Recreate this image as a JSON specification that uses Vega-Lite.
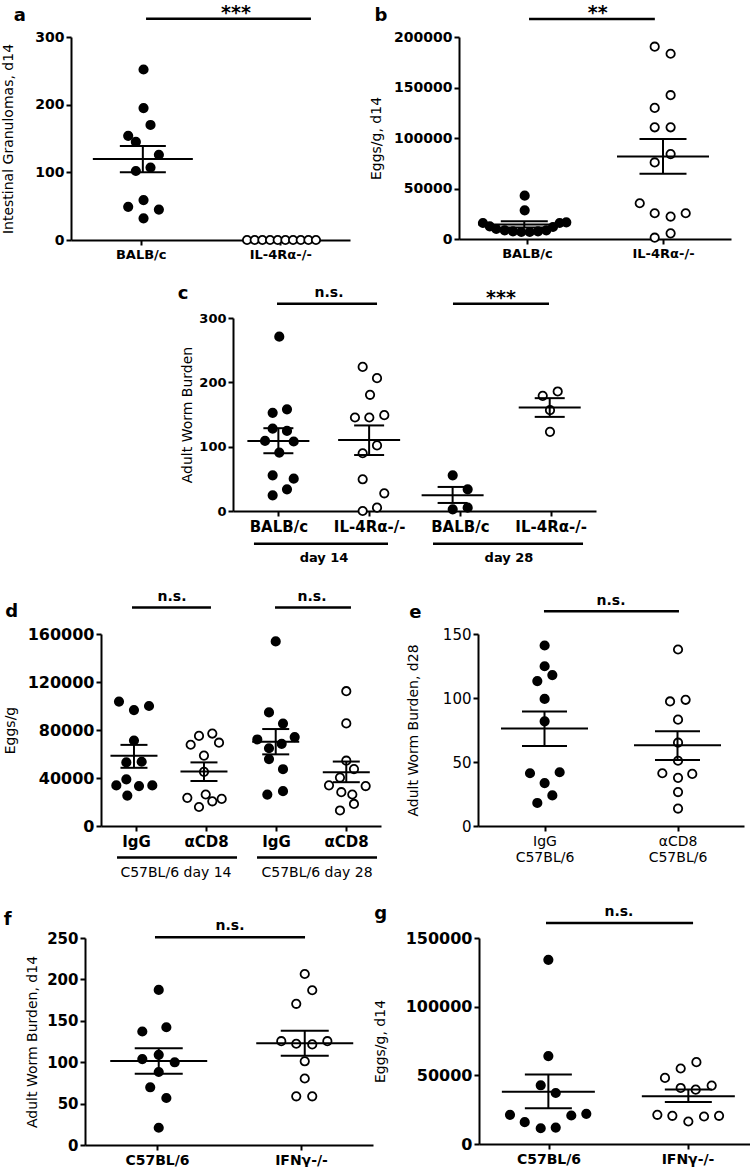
{
  "$schema": "https://vega.github.io/schema/vega-lite/v6.json",
  "padding": {"left": 0, "top": 3, "right": 0, "bottom": 0},
  "config": {
    "view": {"stroke": null},
    "font": "DejaVu Sans",
    "axis": {"domainColor": "#000", "domainWidth": 2, "tickColor": "#000", "tickWidth": 2, "tickSize": 5, "labelColor": "#000", "titleColor": "#000", "labelFont": "DejaVu Sans", "titleFont": "DejaVu Sans", "labelFontWeight": "bold", "titleFontWeight": "normal", "titleFontSize": 14, "labelFontSize": 13, "labelPadding": 2, "grid": false, "labelOverlap": false, "labelFlush": false},
    "axisX": {"labelPadding": 3, "labelAngle": 0},
    "title": {"anchor": "start", "frame": "bounds", "fontSize": 18, "fontWeight": "bold", "font": "DejaVu Sans", "color": "#000"}
  },
  "datasets": {
    "spacer": [{"t": ""}],
    "a_pts": [
      {"x": 1.02, "v": 252, "group": "BALB/c"}, {"x": 1.02, "v": 195, "group": "BALB/c"}, {"x": 1.07, "v": 170, "group": "BALB/c"}, {"x": 0.91, "v": 154, "group": "BALB/c"}, {"x": 0.965, "v": 145, "group": "BALB/c"}, {"x": 1.13, "v": 126, "group": "BALB/c"}, {"x": 0.965, "v": 102, "group": "BALB/c"}, {"x": 1.07, "v": 107, "group": "BALB/c"}, {"x": 1.02, "v": 59, "group": "BALB/c"}, {"x": 0.91, "v": 49, "group": "BALB/c"}, {"x": 1.13, "v": 45, "group": "BALB/c"}, {"x": 1.02, "v": 32, "group": "BALB/c"},
      {"x": 1.762, "v": 0, "group": "IL-4Rα-/-"}, {"x": 1.817, "v": 0, "group": "IL-4Rα-/-"}, {"x": 1.872, "v": 0, "group": "IL-4Rα-/-"}, {"x": 1.927, "v": 0, "group": "IL-4Rα-/-"}, {"x": 1.982, "v": 0, "group": "IL-4Rα-/-"}, {"x": 2.037, "v": 0, "group": "IL-4Rα-/-"}, {"x": 2.092, "v": 0, "group": "IL-4Rα-/-"}, {"x": 2.147, "v": 0, "group": "IL-4Rα-/-"}, {"x": 2.202, "v": 0, "group": "IL-4Rα-/-"}, {"x": 2.256, "v": 0, "group": "IL-4Rα-/-"}
    ],
    "a_sum": [{"x": 1.015, "mean": 119.6, "lo": 100, "hi": 139}],
    "a_sig": [{"x1": 1.038, "x2": 2.22, "y": 327, "xm": 1.683, "label": "***"}],
    "b_pts": [
      {"x": 0.983, "v": 42870, "group": "BALB/c"}, {"x": 0.983, "v": 28420, "group": "BALB/c"}, {"x": 0.676, "v": 15840, "group": "BALB/c"}, {"x": 0.726, "v": 12570, "group": "BALB/c"}, {"x": 0.774, "v": 9900, "group": "BALB/c"}, {"x": 0.836, "v": 8610, "group": "BALB/c"}, {"x": 0.897, "v": 7620, "group": "BALB/c"}, {"x": 0.958, "v": 6930, "group": "BALB/c"}, {"x": 1.02, "v": 6930, "group": "BALB/c"}, {"x": 1.081, "v": 7620, "group": "BALB/c"}, {"x": 1.142, "v": 8610, "group": "BALB/c"}, {"x": 1.191, "v": 11880, "group": "BALB/c"}, {"x": 1.24, "v": 15840, "group": "BALB/c"}, {"x": 1.289, "v": 16530, "group": "BALB/c"},
      {"x": 1.939, "v": 190400, "group": "IL-4Rα-/-"}, {"x": 2.056, "v": 183400, "group": "IL-4Rα-/-"}, {"x": 2.056, "v": 142400, "group": "IL-4Rα-/-"}, {"x": 1.939, "v": 129800, "group": "IL-4Rα-/-"}, {"x": 1.939, "v": 110600, "group": "IL-4Rα-/-"}, {"x": 2.056, "v": 110600, "group": "IL-4Rα-/-"}, {"x": 2.056, "v": 84100, "group": "IL-4Rα-/-"}, {"x": 1.939, "v": 75800, "group": "IL-4Rα-/-"}, {"x": 1.829, "v": 35400, "group": "IL-4Rα-/-"}, {"x": 1.939, "v": 25500, "group": "IL-4Rα-/-"}, {"x": 2.056, "v": 22200, "group": "IL-4Rα-/-"}, {"x": 2.167, "v": 25500, "group": "IL-4Rα-/-"}, {"x": 2.056, "v": 5600, "group": "IL-4Rα-/-"}, {"x": 1.939, "v": 1300, "group": "IL-4Rα-/-"}
    ],
    "b_sum": [{"x": 0.98, "mean": 14300, "lo": 11500, "hi": 17500}, {"x": 2.0, "mean": 81600, "lo": 64600, "hi": 99000}],
    "b_sig": [{"x1": 1.015, "x2": 1.94, "y": 217800, "xm": 1.52, "label": "**"}],
    "c_pts": [
      {"x": 1.01, "v": 271, "group": "BALB/c", "day": "day 14"}, {"x": 0.937, "v": 152.6, "group": "BALB/c", "day": "day 14"}, {"x": 1.095, "v": 158, "group": "BALB/c", "day": "day 14"}, {"x": 0.937, "v": 128, "group": "BALB/c", "day": "day 14"}, {"x": 1.095, "v": 124.5, "group": "BALB/c", "day": "day 14"}, {"x": 0.853, "v": 109, "group": "BALB/c", "day": "day 14"}, {"x": 1.169, "v": 108, "group": "BALB/c", "day": "day 14"}, {"x": 1.01, "v": 90.8, "group": "BALB/c", "day": "day 14"}, {"x": 0.937, "v": 55.5, "group": "BALB/c", "day": "day 14"}, {"x": 1.169, "v": 50.3, "group": "BALB/c", "day": "day 14"}, {"x": 1.095, "v": 33.7, "group": "BALB/c", "day": "day 14"}, {"x": 0.937, "v": 24.4, "group": "BALB/c", "day": "day 14"},
      {"x": 1.929, "v": 224, "group": "IL-4Rα-/-", "day": "day 14"}, {"x": 2.087, "v": 206.5, "group": "IL-4Rα-/-", "day": "day 14"}, {"x": 2.01, "v": 180.6, "group": "IL-4Rα-/-", "day": "day 14"}, {"x": 1.844, "v": 145.3, "group": "IL-4Rα-/-", "day": "day 14"}, {"x": 2.002, "v": 145.3, "group": "IL-4Rα-/-", "day": "day 14"}, {"x": 2.167, "v": 149, "group": "IL-4Rα-/-", "day": "day 14"}, {"x": 2.087, "v": 102, "group": "IL-4Rα-/-", "day": "day 14"}, {"x": 1.929, "v": 89.8, "group": "IL-4Rα-/-", "day": "day 14"}, {"x": 1.929, "v": 49.3, "group": "IL-4Rα-/-", "day": "day 14"}, {"x": 2.167, "v": 27.5, "group": "IL-4Rα-/-", "day": "day 14"}, {"x": 2.087, "v": 5.2, "group": "IL-4Rα-/-", "day": "day 14"}, {"x": 1.929, "v": 0, "group": "IL-4Rα-/-", "day": "day 14"},
      {"x": 2.921, "v": 55.5, "group": "BALB/c", "day": "day 28"}, {"x": 3.086, "v": 33.7, "group": "BALB/c", "day": "day 28"}, {"x": 2.921, "v": 2.6, "group": "BALB/c", "day": "day 28"}, {"x": 3.086, "v": 5.2, "group": "BALB/c", "day": "day 28"},
      {"x": 3.913, "v": 179, "group": "IL-4Rα-/-", "day": "day 28"}, {"x": 4.078, "v": 185.8, "group": "IL-4Rα-/-", "day": "day 28"}, {"x": 3.993, "v": 156.7, "group": "IL-4Rα-/-", "day": "day 28"}, {"x": 3.993, "v": 123, "group": "IL-4Rα-/-", "day": "day 28"}
    ],
    "c_sum": [{"x": 1.0, "mean": 109, "lo": 89.8, "hi": 128.7}, {"x": 2.0, "mean": 110.4, "lo": 87, "hi": 133}, {"x": 2.92, "mean": 24.4, "lo": 12.5, "hi": 37.4}, {"x": 3.99, "mean": 161, "lo": 146.3, "hi": 175.4}],
    "c_sig": [{"x1": 0.985, "x2": 2.087, "y": 322, "xm": 1.558, "label": "n.s."}, {"x1": 2.924, "x2": 3.982, "y": 322, "xm": 3.453, "label": "***"}],
    "c_days": [{"x1": 0.731, "x2": 2.208, "y": -51, "xm": 1.503, "ty": -73, "label": "day 14"}, {"x1": 2.704, "x2": 4.357, "y": -51, "xm": 3.541, "ty": -73, "label": "day 28"}],
    "d_pts": [
      {"x": 0.757, "v": 103660, "group": "IgG"}, {"x": 0.971, "v": 96620, "group": "IgG"}, {"x": 1.186, "v": 100000, "group": "IgG"}, {"x": 0.971, "v": 71270, "group": "IgG"}, {"x": 0.862, "v": 52960, "group": "IgG"}, {"x": 1.081, "v": 53520, "group": "IgG"}, {"x": 0.862, "v": 38870, "group": "IgG"}, {"x": 0.719, "v": 33800, "group": "IgG"}, {"x": 1.043, "v": 33240, "group": "IgG"}, {"x": 1.233, "v": 33800, "group": "IgG"}, {"x": 0.876, "v": 25350, "group": "IgG"},
      {"x": 1.781, "v": 67730, "group": "αCD8"}, {"x": 1.9, "v": 75090, "group": "αCD8"}, {"x": 2.09, "v": 77040, "group": "αCD8"}, {"x": 2.186, "v": 69420, "group": "αCD8"}, {"x": 1.971, "v": 58670, "group": "αCD8"}, {"x": 1.971, "v": 45120, "group": "αCD8"}, {"x": 1.733, "v": 23450, "group": "αCD8"}, {"x": 1.9, "v": 15830, "group": "αCD8"}, {"x": 1.996, "v": 26240, "group": "αCD8"}, {"x": 2.09, "v": 20570, "group": "αCD8"}, {"x": 2.224, "v": 22600, "group": "αCD8"},
      {"x": 2.996, "v": 153800, "group": "IgG"}, {"x": 2.9, "v": 94650, "group": "IgG"}, {"x": 3.1, "v": 85350, "group": "IgG"}, {"x": 2.733, "v": 72110, "group": "IgG"}, {"x": 2.9, "v": 64790, "group": "IgG"}, {"x": 3.081, "v": 68450, "group": "IgG"}, {"x": 3.267, "v": 74080, "group": "IgG"}, {"x": 2.9, "v": 55770, "group": "IgG"}, {"x": 3.1, "v": 47320, "group": "IgG"}, {"x": 2.876, "v": 26200, "group": "IgG"}, {"x": 3.1, "v": 29010, "group": "IgG"},
      {"x": 4.004, "v": 112330, "group": "αCD8"}, {"x": 4.004, "v": 85500, "group": "αCD8"}, {"x": 4.004, "v": 54430, "group": "αCD8"}, {"x": 4.114, "v": 47410, "group": "αCD8"}, {"x": 3.914, "v": 40350, "group": "αCD8"}, {"x": 3.757, "v": 33860, "group": "αCD8"}, {"x": 4.281, "v": 33280, "group": "αCD8"}, {"x": 3.933, "v": 28200, "group": "αCD8"}, {"x": 4.09, "v": 26240, "group": "αCD8"}, {"x": 4.114, "v": 18370, "group": "αCD8"}, {"x": 3.914, "v": 12950, "group": "αCD8"}
    ],
    "d_sum": [{"x": 0.971, "mean": 58500, "lo": 48500, "hi": 67600}, {"x": 1.971, "mean": 45400, "lo": 37500, "hi": 53000}, {"x": 2.996, "mean": 70300, "lo": 59700, "hi": 80800}, {"x": 4.004, "mean": 44700, "lo": 36500, "hi": 53700}],
    "d_sig": [{"x1": 0.943, "x2": 2.071, "y": 182000, "xm": 1.514, "label": "n.s."}, {"x1": 2.986, "x2": 4.071, "y": 182000, "xm": 3.514, "label": "n.s."}],
    "d_days": [{"x1": 0.729, "x2": 2.443, "y": -26240, "xm": 1.571, "ty": -38940, "label": "C57BL/6 day 14"}, {"x1": 2.729, "x2": 4.443, "y": -26240, "xm": 3.586, "ty": -38940, "label": "C57BL/6 day 28"}],
    "e_pts": [
      {"x": 1.001, "v": 141, "group": "IgG"}, {"x": 1.001, "v": 124.8, "group": "IgG"}, {"x": 0.946, "v": 113.2, "group": "IgG"}, {"x": 1.059, "v": 117.9, "group": "IgG"}, {"x": 1.001, "v": 99.3, "group": "IgG"}, {"x": 1.001, "v": 81.8, "group": "IgG"}, {"x": 0.891, "v": 41.2, "group": "IgG"}, {"x": 1.114, "v": 42, "group": "IgG"}, {"x": 1.001, "v": 33.5, "group": "IgG"}, {"x": 1.059, "v": 23.9, "group": "IgG"}, {"x": 0.946, "v": 18, "group": "IgG"},
      {"x": 2.004, "v": 137.9, "group": "αCD8"}, {"x": 1.944, "v": 97.3, "group": "αCD8"}, {"x": 2.061, "v": 98.6, "group": "αCD8"}, {"x": 2.004, "v": 83.1, "group": "αCD8"}, {"x": 2.004, "v": 65.1, "group": "αCD8"}, {"x": 2.004, "v": 51, "group": "αCD8"}, {"x": 1.886, "v": 41.2, "group": "αCD8"}, {"x": 2.004, "v": 37.6, "group": "αCD8"}, {"x": 2.111, "v": 40.7, "group": "αCD8"}, {"x": 2.004, "v": 26.5, "group": "αCD8"}, {"x": 2.004, "v": 13.6, "group": "αCD8"}
    ],
    "e_sum": [{"x": 1.0, "mean": 76.2, "lo": 62.5, "hi": 89.5}, {"x": 2.0, "mean": 63, "lo": 51.5, "hi": 74.1}],
    "e_sig": [{"x1": 0.996, "x2": 2.011, "y": 167.8, "xm": 1.5, "label": "n.s."}],
    "f_pts": [
      {"x": 1.012, "v": 187.3, "group": "C57BL/6"}, {"x": 0.898, "v": 137.1, "group": "C57BL/6"}, {"x": 1.065, "v": 142.2, "group": "C57BL/6"}, {"x": 1.012, "v": 108.9, "group": "C57BL/6"}, {"x": 0.898, "v": 103.8, "group": "C57BL/6"}, {"x": 1.123, "v": 99.9, "group": "C57BL/6"}, {"x": 1.012, "v": 88.2, "group": "C57BL/6"}, {"x": 0.953, "v": 69.7, "group": "C57BL/6"}, {"x": 1.065, "v": 56.8, "group": "C57BL/6"}, {"x": 1.012, "v": 20.8, "group": "C57BL/6"},
      {"x": 2.026, "v": 206.5, "group": "IFNγ-/-"}, {"x": 2.078, "v": 186.9, "group": "IFNγ-/-"}, {"x": 1.967, "v": 170.5, "group": "IFNγ-/-"}, {"x": 1.863, "v": 125.4, "group": "IFNγ-/-"}, {"x": 1.967, "v": 122.3, "group": "IFNγ-/-"}, {"x": 2.078, "v": 121.5, "group": "IFNγ-/-"}, {"x": 2.183, "v": 125.4, "group": "IFNγ-/-"}, {"x": 2.026, "v": 101.1, "group": "IFNγ-/-"}, {"x": 2.026, "v": 80.3, "group": "IFNγ-/-"}, {"x": 1.967, "v": 58.8, "group": "IFNγ-/-"}, {"x": 2.078, "v": 58.8, "group": "IFNγ-/-"}
    ],
    "f_sum": [{"x": 1.012, "mean": 101.3, "lo": 86.2, "hi": 116.8}, {"x": 2.026, "mean": 122.8, "lo": 107.8, "hi": 137.9}],
    "f_sig": [{"x1": 0.986, "x2": 2.028, "y": 251, "xm": 1.507, "label": "n.s."}],
    "g_pts": [
      {"x": 0.999, "v": 134120, "group": "C57BL/6"}, {"x": 0.999, "v": 64010, "group": "C57BL/6"}, {"x": 0.944, "v": 42750, "group": "C57BL/6"}, {"x": 1.052, "v": 37130, "group": "C57BL/6"}, {"x": 0.723, "v": 21250, "group": "C57BL/6"}, {"x": 0.829, "v": 15880, "group": "C57BL/6"}, {"x": 0.944, "v": 11480, "group": "C57BL/6"}, {"x": 1.052, "v": 11970, "group": "C57BL/6"}, {"x": 1.164, "v": 20770, "group": "C57BL/6"}, {"x": 1.272, "v": 21990, "group": "C57BL/6"},
      {"x": 1.838, "v": 48130, "group": "IFNγ-/-"}, {"x": 1.951, "v": 54970, "group": "IFNγ-/-"}, {"x": 2.064, "v": 59610, "group": "IFNγ-/-"}, {"x": 1.951, "v": 40800, "group": "IFNγ-/-"}, {"x": 2.059, "v": 39580, "group": "IFNγ-/-"}, {"x": 2.174, "v": 42510, "group": "IFNγ-/-"}, {"x": 1.783, "v": 21250, "group": "IFNγ-/-"}, {"x": 1.891, "v": 20520, "group": "IFNγ-/-"}, {"x": 2.006, "v": 16370, "group": "IFNγ-/-"}, {"x": 2.119, "v": 20030, "group": "IFNγ-/-"}, {"x": 2.227, "v": 20520, "group": "IFNγ-/-"}
    ],
    "g_sum": [{"x": 0.999, "mean": 38100, "lo": 26100, "hi": 50600}, {"x": 2.006, "mean": 34800, "lo": 30500, "hi": 39600}],
    "g_sig": [{"x1": 0.982, "x2": 2.04, "y": 161000, "xm": 1.507, "label": "n.s."}]
  },
  "spacing": 24,
  "vconcat": [
    {
      "spacing": 0,
      "hconcat": [
        {"width": 1, "height": 1, "data": {"name": "spacer"}, "mark": {"type": "text"}, "encoding": {"text": {"field": "t"}}},
        {
          "spacing": 19,
          "hconcat": [
            {
              "width": 279, "height": 203,
              "title": {"text": "a", "dx": 12, "offset": -21.5},
              "layer": [
                {"data": {"name": "a_pts"}, "mark": {"type": "circle", "size": 70, "stroke": "#000", "strokeWidth": 1.8, "opacity": 1},
                 "encoding": {
                   "x": {"field": "x", "type": "quantitative", "scale": {"domain": [0.5, 2.5], "nice": false, "zero": false}, "axis": {"values": [1, 2], "labelExpr": "datum.value == 1 ? 'BALB/c' : 'IL-4Rα-/-'", "title": null, "labelFontSize": 13}},
                   "y": {"field": "v", "type": "quantitative", "scale": {"domain": [0, 300], "nice": false}, "axis": {"values": [0, 100, 200, 300], "format": "d", "title": "Intestinal Granulomas, d14", "titlePadding": 19, "labelFontSize": 14}},
                   "fill": {"field": "group", "type": "nominal", "scale": {"domain": ["BALB/c", "IgG", "C57BL/6", "IL-4Rα-/-", "αCD8", "IFNγ-/-"], "range": ["#000000", "#000000", "#000000", "#ffffff", "#ffffff", "#ffffff"]}, "legend": null}
                 }},
                {"data": {"name": "a_sum"}, "mark": {"type": "rule", "strokeWidth": 2, "color": "#000"},
                 "encoding": {"x": {"field": "x", "type": "quantitative"}, "y": {"field": "lo", "type": "quantitative"}, "y2": {"field": "hi"}}},
                {"data": {"name": "a_sum"}, "mark": {"type": "tick", "orient": "horizontal", "size": 100, "thickness": 2, "color": "#000", "opacity": 1},
                 "encoding": {"x": {"field": "x", "type": "quantitative"}, "y": {"field": "mean", "type": "quantitative"}}},
                {"data": {"name": "a_sum"}, "mark": {"type": "tick", "orient": "horizontal", "size": 46, "thickness": 2, "color": "#000", "opacity": 1},
                 "encoding": {"x": {"field": "x", "type": "quantitative"}, "y": {"field": "lo", "type": "quantitative"}}},
                {"data": {"name": "a_sum"}, "mark": {"type": "tick", "orient": "horizontal", "size": 46, "thickness": 2, "color": "#000", "opacity": 1},
                 "encoding": {"x": {"field": "x", "type": "quantitative"}, "y": {"field": "hi", "type": "quantitative"}}},
                {"data": {"name": "a_sig"}, "mark": {"type": "rule", "strokeWidth": 2.5, "color": "#000"},
                 "encoding": {"x": {"field": "x1", "type": "quantitative"}, "x2": {"field": "x2"}, "y": {"field": "y", "type": "quantitative"}}},
                {"data": {"name": "a_sig"}, "mark": {"type": "text", "fontSize": 19, "fontWeight": "bold", "baseline": "alphabetic", "color": "#000"},
                 "encoding": {"x": {"field": "xm", "type": "quantitative"}, "y": {"field": "y", "type": "quantitative"}, "text": {"field": "label"}}}
              ]
            },
            {
              "width": 272, "height": 202,
              "title": {"text": "b", "dx": 5, "offset": -20.5},
              "layer": [
                {"data": {"name": "b_pts"}, "mark": {"type": "circle", "size": 70, "stroke": "#000", "strokeWidth": 1.8, "opacity": 1},
                 "encoding": {
                   "x": {"field": "x", "type": "quantitative", "scale": {"domain": [0.5, 2.5], "nice": false, "zero": false}, "axis": {"values": [1, 2], "labelExpr": "datum.value == 1 ? 'BALB/c' : 'IL-4Rα-/-'", "title": null, "labelFontSize": 13}},
                   "y": {"field": "v", "type": "quantitative", "scale": {"domain": [0, 200000], "nice": false}, "axis": {"values": [0, 50000, 100000, 150000, 200000], "format": "d", "title": "Eggs/g, d14", "titlePadding": 10, "labelFontSize": 14}},
                   "fill": {"field": "group", "type": "nominal", "scale": {"domain": ["BALB/c", "IgG", "C57BL/6", "IL-4Rα-/-", "αCD8", "IFNγ-/-"], "range": ["#000000", "#000000", "#000000", "#ffffff", "#ffffff", "#ffffff"]}, "legend": null}
                 }},
                {"data": {"name": "b_sum"}, "mark": {"type": "rule", "strokeWidth": 2, "color": "#000"},
                 "encoding": {"x": {"field": "x", "type": "quantitative"}, "y": {"field": "lo", "type": "quantitative"}, "y2": {"field": "hi"}}},
                {"data": {"name": "b_sum"}, "mark": {"type": "tick", "orient": "horizontal", "size": 92, "thickness": 2, "color": "#000", "opacity": 1},
                 "encoding": {"x": {"field": "x", "type": "quantitative"}, "y": {"field": "mean", "type": "quantitative"}}},
                {"data": {"name": "b_sum"}, "mark": {"type": "tick", "orient": "horizontal", "size": 47, "thickness": 2, "color": "#000", "opacity": 1},
                 "encoding": {"x": {"field": "x", "type": "quantitative"}, "y": {"field": "lo", "type": "quantitative"}}},
                {"data": {"name": "b_sum"}, "mark": {"type": "tick", "orient": "horizontal", "size": 47, "thickness": 2, "color": "#000", "opacity": 1},
                 "encoding": {"x": {"field": "x", "type": "quantitative"}, "y": {"field": "hi", "type": "quantitative"}}},
                {"data": {"name": "b_sig"}, "mark": {"type": "rule", "strokeWidth": 2.5, "color": "#000"},
                 "encoding": {"x": {"field": "x1", "type": "quantitative"}, "x2": {"field": "x2"}, "y": {"field": "y", "type": "quantitative"}}},
                {"data": {"name": "b_sig"}, "mark": {"type": "text", "fontSize": 19, "fontWeight": "bold", "baseline": "alphabetic", "color": "#000"},
                 "encoding": {"x": {"field": "xm", "type": "quantitative"}, "y": {"field": "y", "type": "quantitative"}, "text": {"field": "label"}}}
              ]
            }
          ]
        }
      ]
    },
    {
      "spacing": 0,
      "hconcat": [
        {"width": 177, "height": 1, "data": {"name": "spacer"}, "mark": {"type": "text"}, "encoding": {"text": {"field": "t"}}},
        {
          "width": 363, "height": 193,
          "title": {"text": "c", "dx": -3, "offset": -17.5},
          "layer": [
            {"data": {"name": "c_pts"}, "mark": {"type": "circle", "size": 70, "stroke": "#000", "strokeWidth": 1.8, "opacity": 1},
             "encoding": {
               "x": {"field": "x", "type": "quantitative", "scale": {"domain": [0.5, 4.5], "nice": false, "zero": false}, "axis": {"values": [1, 2, 3, 4], "labelExpr": "datum.value % 2 == 1 ? 'BALB/c' : 'IL-4Rα-/-'", "title": null, "labelFontSize": 15}},
               "y": {"field": "v", "type": "quantitative", "scale": {"domain": [0, 300], "nice": false}, "axis": {"values": [0, 100, 200, 300], "format": "d", "title": "Adult Worm Burden", "titlePadding": 4, "labelFontSize": 13}},
               "fill": {"field": "group", "type": "nominal", "scale": {"domain": ["BALB/c", "IgG", "C57BL/6", "IL-4Rα-/-", "αCD8", "IFNγ-/-"], "range": ["#000000", "#000000", "#000000", "#ffffff", "#ffffff", "#ffffff"]}, "legend": null}
             }},
            {"data": {"name": "c_sum"}, "mark": {"type": "rule", "strokeWidth": 2, "color": "#000"},
             "encoding": {"x": {"field": "x", "type": "quantitative"}, "y": {"field": "lo", "type": "quantitative"}, "y2": {"field": "hi"}}},
            {"data": {"name": "c_sum"}, "mark": {"type": "tick", "orient": "horizontal", "size": 62, "thickness": 2, "color": "#000", "opacity": 1},
             "encoding": {"x": {"field": "x", "type": "quantitative"}, "y": {"field": "mean", "type": "quantitative"}}},
            {"data": {"name": "c_sum"}, "mark": {"type": "tick", "orient": "horizontal", "size": 30, "thickness": 2, "color": "#000", "opacity": 1},
             "encoding": {"x": {"field": "x", "type": "quantitative"}, "y": {"field": "lo", "type": "quantitative"}}},
            {"data": {"name": "c_sum"}, "mark": {"type": "tick", "orient": "horizontal", "size": 30, "thickness": 2, "color": "#000", "opacity": 1},
             "encoding": {"x": {"field": "x", "type": "quantitative"}, "y": {"field": "hi", "type": "quantitative"}}},
            {"data": {"name": "c_sig"}, "mark": {"type": "rule", "strokeWidth": 2.5, "color": "#000"},
             "encoding": {"x": {"field": "x1", "type": "quantitative"}, "x2": {"field": "x2"}, "y": {"field": "y", "type": "quantitative"}}},
            {"data": {"name": "c_sig"}, "transform": [{"filter": "datum.label == 'n.s.'"}], "mark": {"type": "text", "fontSize": 14, "fontWeight": "bold", "baseline": "alphabetic", "dy": -7, "color": "#000"},
             "encoding": {"x": {"field": "xm", "type": "quantitative"}, "y": {"field": "y", "type": "quantitative"}, "text": {"field": "label"}}},
            {"data": {"name": "c_sig"}, "transform": [{"filter": "datum.label != 'n.s.'"}], "mark": {"type": "text", "fontSize": 19, "fontWeight": "bold", "baseline": "alphabetic", "color": "#000"},
             "encoding": {"x": {"field": "xm", "type": "quantitative"}, "y": {"field": "y", "type": "quantitative"}, "text": {"field": "label"}}},
            {"data": {"name": "c_days"}, "mark": {"type": "rule", "strokeWidth": 2.5, "color": "#000"},
             "encoding": {"x": {"field": "x1", "type": "quantitative"}, "x2": {"field": "x2"}, "y": {"field": "y", "type": "quantitative"}}},
            {"data": {"name": "c_days"}, "mark": {"type": "text", "fontSize": 13, "fontWeight": "bold", "baseline": "middle", "color": "#000"},
             "encoding": {"x": {"field": "xm", "type": "quantitative"}, "y": {"field": "ty", "type": "quantitative"}, "text": {"field": "label"}}}
          ]
        }
      ]
    },
    {
      "spacing": 0,
      "hconcat": [
        {"width": 3, "height": 1, "data": {"name": "spacer"}, "mark": {"type": "text"}, "encoding": {"text": {"field": "t"}}},
        {
          "spacing": 25,
          "hconcat": [
            {
              "width": 280, "height": 192,
              "title": {"text": "d", "dx": 2, "offset": -31.5},
              "layer": [
                {"data": {"name": "d_pts"}, "mark": {"type": "circle", "size": 70, "stroke": "#000", "strokeWidth": 1.8, "opacity": 1},
                 "encoding": {
                   "x": {"field": "x", "type": "quantitative", "scale": {"domain": [0.5, 4.5], "nice": false, "zero": false}, "axis": {"values": [1, 2, 3, 4], "labelExpr": "datum.value % 2 == 1 ? 'IgG' : 'αCD8'", "title": null, "labelFontSize": 15}},
                   "y": {"field": "v", "type": "quantitative", "scale": {"domain": [0, 160000], "nice": false}, "axis": {"values": [0, 40000, 80000, 120000, 160000], "format": "d", "title": "Eggs/g", "titlePadding": 10, "labelFontSize": 16}},
                   "fill": {"field": "group", "type": "nominal", "scale": {"domain": ["BALB/c", "IgG", "C57BL/6", "IL-4Rα-/-", "αCD8", "IFNγ-/-"], "range": ["#000000", "#000000", "#000000", "#ffffff", "#ffffff", "#ffffff"]}, "legend": null}
                 }},
                {"data": {"name": "d_sum"}, "mark": {"type": "rule", "strokeWidth": 2, "color": "#000"},
                 "encoding": {"x": {"field": "x", "type": "quantitative"}, "y": {"field": "lo", "type": "quantitative"}, "y2": {"field": "hi"}}},
                {"data": {"name": "d_sum"}, "mark": {"type": "tick", "orient": "horizontal", "size": 47, "thickness": 2, "color": "#000", "opacity": 1},
                 "encoding": {"x": {"field": "x", "type": "quantitative"}, "y": {"field": "mean", "type": "quantitative"}}},
                {"data": {"name": "d_sum"}, "mark": {"type": "tick", "orient": "horizontal", "size": 27, "thickness": 2, "color": "#000", "opacity": 1},
                 "encoding": {"x": {"field": "x", "type": "quantitative"}, "y": {"field": "lo", "type": "quantitative"}}},
                {"data": {"name": "d_sum"}, "mark": {"type": "tick", "orient": "horizontal", "size": 27, "thickness": 2, "color": "#000", "opacity": 1},
                 "encoding": {"x": {"field": "x", "type": "quantitative"}, "y": {"field": "hi", "type": "quantitative"}}},
                {"data": {"name": "d_sig"}, "mark": {"type": "rule", "strokeWidth": 2.5, "color": "#000"},
                 "encoding": {"x": {"field": "x1", "type": "quantitative"}, "x2": {"field": "x2"}, "y": {"field": "y", "type": "quantitative"}}},
                {"data": {"name": "d_sig"}, "mark": {"type": "text", "fontSize": 14, "fontWeight": "bold", "baseline": "alphabetic", "dy": -7, "color": "#000"},
                 "encoding": {"x": {"field": "xm", "type": "quantitative"}, "y": {"field": "y", "type": "quantitative"}, "text": {"field": "label"}}},
                {"data": {"name": "d_days"}, "mark": {"type": "rule", "strokeWidth": 2.5, "color": "#000"},
                 "encoding": {"x": {"field": "x1", "type": "quantitative"}, "x2": {"field": "x2"}, "y": {"field": "y", "type": "quantitative"}}},
                {"data": {"name": "d_days"}, "mark": {"type": "text", "fontSize": 14, "baseline": "middle", "color": "#000"},
                 "encoding": {"x": {"field": "xm", "type": "quantitative"}, "y": {"field": "ty", "type": "quantitative"}, "text": {"field": "label"}}}
              ]
            },
            {
              "width": 266, "height": 192,
              "title": {"text": "e", "dx": 3, "offset": -27.8},
              "layer": [
                {"data": {"name": "e_pts"}, "mark": {"type": "circle", "size": 70, "stroke": "#000", "strokeWidth": 1.8, "opacity": 1},
                 "encoding": {
                   "x": {"field": "x", "type": "quantitative", "scale": {"domain": [0.5, 2.5], "nice": false, "zero": false}, "axis": {"values": [1, 2], "labelExpr": "datum.value == 1 ? ['IgG', 'C57BL/6'] : ['αCD8', 'C57BL/6']", "title": null, "labelFontSize": 14, "labelFontWeight": "normal", "labelLineHeight": 16}},
                   "y": {"field": "v", "type": "quantitative", "scale": {"domain": [0, 150], "nice": false}, "axis": {"values": [0, 50, 100, 150], "format": "d", "title": "Adult Worm Burden, d28", "titlePadding": 22, "labelFontSize": 15, "labelFontWeight": "normal"}},
                   "fill": {"field": "group", "type": "nominal", "scale": {"domain": ["BALB/c", "IgG", "C57BL/6", "IL-4Rα-/-", "αCD8", "IFNγ-/-"], "range": ["#000000", "#000000", "#000000", "#ffffff", "#ffffff", "#ffffff"]}, "legend": null}
                 }},
                {"data": {"name": "e_sum"}, "mark": {"type": "rule", "strokeWidth": 2, "color": "#000"},
                 "encoding": {"x": {"field": "x", "type": "quantitative"}, "y": {"field": "lo", "type": "quantitative"}, "y2": {"field": "hi"}}},
                {"data": {"name": "e_sum"}, "mark": {"type": "tick", "orient": "horizontal", "size": 87, "thickness": 2, "color": "#000", "opacity": 1},
                 "encoding": {"x": {"field": "x", "type": "quantitative"}, "y": {"field": "mean", "type": "quantitative"}}},
                {"data": {"name": "e_sum"}, "mark": {"type": "tick", "orient": "horizontal", "size": 45, "thickness": 2, "color": "#000", "opacity": 1},
                 "encoding": {"x": {"field": "x", "type": "quantitative"}, "y": {"field": "lo", "type": "quantitative"}}},
                {"data": {"name": "e_sum"}, "mark": {"type": "tick", "orient": "horizontal", "size": 45, "thickness": 2, "color": "#000", "opacity": 1},
                 "encoding": {"x": {"field": "x", "type": "quantitative"}, "y": {"field": "hi", "type": "quantitative"}}},
                {"data": {"name": "e_sig"}, "mark": {"type": "rule", "strokeWidth": 2.5, "color": "#000"},
                 "encoding": {"x": {"field": "x1", "type": "quantitative"}, "x2": {"field": "x2"}, "y": {"field": "y", "type": "quantitative"}}},
                {"data": {"name": "e_sig"}, "mark": {"type": "text", "fontSize": 14, "fontWeight": "bold", "baseline": "alphabetic", "dy": -6, "color": "#000"},
                 "encoding": {"x": {"field": "xm", "type": "quantitative"}, "y": {"field": "y", "type": "quantitative"}, "text": {"field": "label"}}}
              ]
            }
          ]
        }
      ]
    },
    {
      "spacing": 0,
      "hconcat": [
        {"width": 3, "height": 1, "data": {"name": "spacer"}, "mark": {"type": "text"}, "encoding": {"text": {"field": "t"}}},
        {
          "spacing": 0,
          "hconcat": [
            {
              "width": 288, "height": 207,
              "title": {"text": "f", "dx": -22, "offset": -9.5},
              "layer": [
                {"data": {"name": "f_pts"}, "mark": {"type": "circle", "size": 70, "stroke": "#000", "strokeWidth": 1.8, "opacity": 1},
                 "encoding": {
                   "x": {"field": "x", "type": "quantitative", "scale": {"domain": [0.5, 2.5], "nice": false, "zero": false}, "axis": {"values": [1, 2], "labelExpr": "datum.value == 1 ? 'C57BL/6' : 'IFNγ-/-'", "title": null, "labelFontSize": 14}},
                   "y": {"field": "v", "type": "quantitative", "scale": {"domain": [0, 250], "nice": false}, "axis": {"values": [0, 50, 100, 150, 200, 250], "format": "d", "title": "Adult Worm Burden, d14", "titlePadding": 7, "labelFontSize": 15}},
                   "fill": {"field": "group", "type": "nominal", "scale": {"domain": ["BALB/c", "IgG", "C57BL/6", "IL-4Rα-/-", "αCD8", "IFNγ-/-"], "range": ["#000000", "#000000", "#000000", "#ffffff", "#ffffff", "#ffffff"]}, "legend": null}
                 }},
                {"data": {"name": "f_sum"}, "mark": {"type": "rule", "strokeWidth": 2, "color": "#000"},
                 "encoding": {"x": {"field": "x", "type": "quantitative"}, "y": {"field": "lo", "type": "quantitative"}, "y2": {"field": "hi"}}},
                {"data": {"name": "f_sum"}, "mark": {"type": "tick", "orient": "horizontal", "size": 97, "thickness": 2, "color": "#000", "opacity": 1},
                 "encoding": {"x": {"field": "x", "type": "quantitative"}, "y": {"field": "mean", "type": "quantitative"}}},
                {"data": {"name": "f_sum"}, "mark": {"type": "tick", "orient": "horizontal", "size": 48, "thickness": 2, "color": "#000", "opacity": 1},
                 "encoding": {"x": {"field": "x", "type": "quantitative"}, "y": {"field": "lo", "type": "quantitative"}}},
                {"data": {"name": "f_sum"}, "mark": {"type": "tick", "orient": "horizontal", "size": 48, "thickness": 2, "color": "#000", "opacity": 1},
                 "encoding": {"x": {"field": "x", "type": "quantitative"}, "y": {"field": "hi", "type": "quantitative"}}},
                {"data": {"name": "f_sig"}, "mark": {"type": "rule", "strokeWidth": 2.5, "color": "#000"},
                 "encoding": {"x": {"field": "x1", "type": "quantitative"}, "x2": {"field": "x2"}, "y": {"field": "y", "type": "quantitative"}}},
                {"data": {"name": "f_sig"}, "mark": {"type": "text", "fontSize": 14, "fontWeight": "bold", "baseline": "alphabetic", "dy": -7, "color": "#000"},
                 "encoding": {"x": {"field": "xm", "type": "quantitative"}, "y": {"field": "y", "type": "quantitative"}, "text": {"field": "label"}}}
              ]
            },
            {
              "width": 278, "height": 206,
              "title": {"text": "g", "dx": 1, "offset": -18},
              "layer": [
                {"data": {"name": "g_pts"}, "mark": {"type": "circle", "size": 70, "stroke": "#000", "strokeWidth": 1.8, "opacity": 1},
                 "encoding": {
                   "x": {"field": "x", "type": "quantitative", "scale": {"domain": [0.5, 2.5], "nice": false, "zero": false}, "axis": {"values": [1, 2], "labelExpr": "datum.value == 1 ? 'C57BL/6' : 'IFNγ-/-'", "title": null, "labelFontSize": 14}},
                   "y": {"field": "v", "type": "quantitative", "scale": {"domain": [0, 150000], "nice": false}, "axis": {"values": [0, 50000, 100000, 150000], "format": "d", "title": "Eggs/g, d14", "titlePadding": 18, "labelFontSize": 16}},
                   "fill": {"field": "group", "type": "nominal", "scale": {"domain": ["BALB/c", "IgG", "C57BL/6", "IL-4Rα-/-", "αCD8", "IFNγ-/-"], "range": ["#000000", "#000000", "#000000", "#ffffff", "#ffffff", "#ffffff"]}, "legend": null}
                 }},
                {"data": {"name": "g_sum"}, "mark": {"type": "rule", "strokeWidth": 2, "color": "#000"},
                 "encoding": {"x": {"field": "x", "type": "quantitative"}, "y": {"field": "lo", "type": "quantitative"}, "y2": {"field": "hi"}}},
                {"data": {"name": "g_sum"}, "mark": {"type": "tick", "orient": "horizontal", "size": 93, "thickness": 2, "color": "#000", "opacity": 1},
                 "encoding": {"x": {"field": "x", "type": "quantitative"}, "y": {"field": "mean", "type": "quantitative"}}},
                {"data": {"name": "g_sum"}, "mark": {"type": "tick", "orient": "horizontal", "size": 47, "thickness": 2, "color": "#000", "opacity": 1},
                 "encoding": {"x": {"field": "x", "type": "quantitative"}, "y": {"field": "lo", "type": "quantitative"}}},
                {"data": {"name": "g_sum"}, "mark": {"type": "tick", "orient": "horizontal", "size": 47, "thickness": 2, "color": "#000", "opacity": 1},
                 "encoding": {"x": {"field": "x", "type": "quantitative"}, "y": {"field": "hi", "type": "quantitative"}}},
                {"data": {"name": "g_sig"}, "mark": {"type": "rule", "strokeWidth": 2.5, "color": "#000"},
                 "encoding": {"x": {"field": "x1", "type": "quantitative"}, "x2": {"field": "x2"}, "y": {"field": "y", "type": "quantitative"}}},
                {"data": {"name": "g_sig"}, "mark": {"type": "text", "fontSize": 14, "fontWeight": "bold", "baseline": "alphabetic", "dy": -7, "color": "#000"},
                 "encoding": {"x": {"field": "xm", "type": "quantitative"}, "y": {"field": "y", "type": "quantitative"}, "text": {"field": "label"}}}
              ]
            }
          ]
        }
      ]
    }
  ]
}
